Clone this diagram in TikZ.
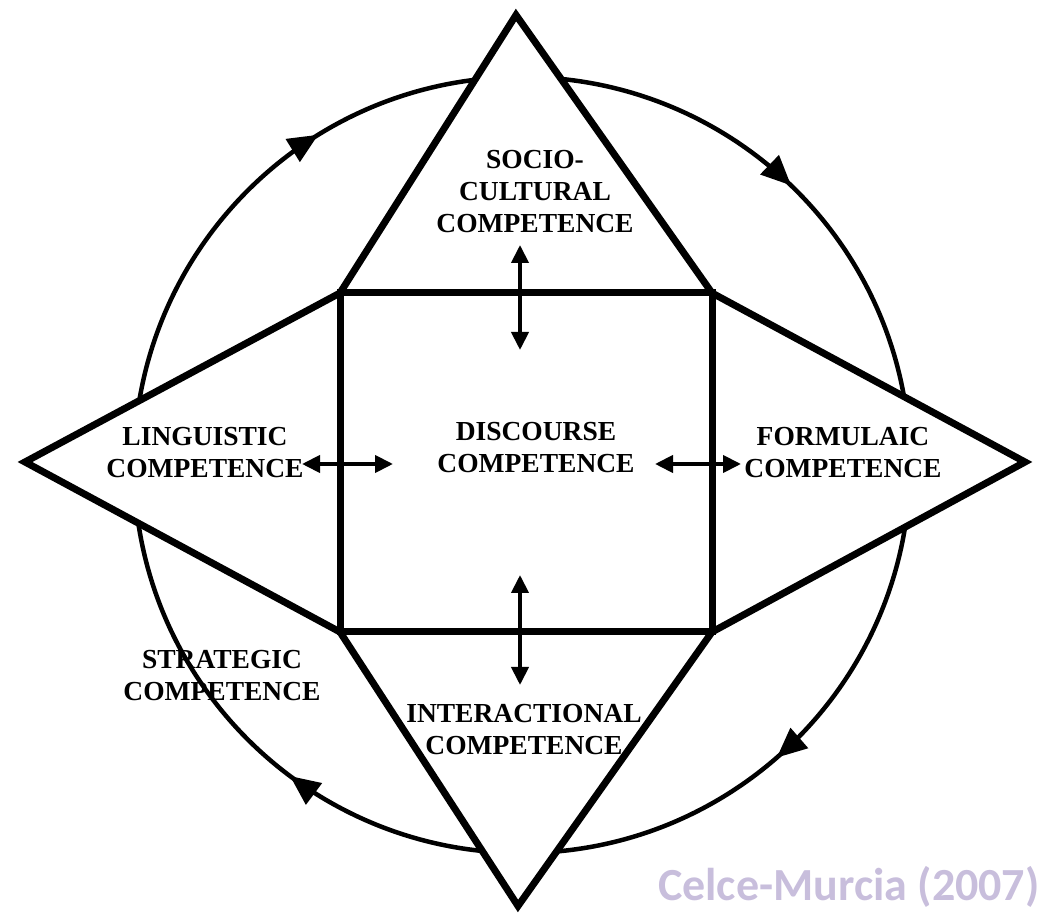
\documentclass[tikz,border=0pt]{standalone}
\usepackage{fontspec}
\setmainfont{Liberation Serif}
\newfontfamily\citefont{Carlito}
\usepackage{tikz}
\usetikzlibrary{arrows.meta,decorations.markings}
\definecolor{citelila}{HTML}{C8BEDC}

\begin{document}
\begin{tikzpicture}[
x=1pt,y=1pt,
outline/.style={line width=7pt,line join=miter},
circ/.style={line width=4.5pt,
  postaction={decorate,decoration={markings,
    mark=at position 0.136 with {\arrow{Triangle[length=30pt,width=26pt]}},
    mark=at position 0.352 with {\arrow{Triangle[length=30pt,width=26pt]}},
    mark=at position 0.662 with {\arrow{Triangle[length=30pt,width=26pt]}},
    mark=at position 0.872 with {\arrow{Triangle[length=30pt,width=26pt]}}}}},
both/.style={{Triangle[length=18pt,width=17pt]}-{Triangle[length=18pt,width=17pt]},line width=4pt},
lbl/.style={font=\bfseries\fontsize{27.5}{32}\selectfont,align=center,inner sep=0pt}
]
\useasboundingbox (0,0) rectangle (1043,912);
\coordinate (C) at (522,447);
\draw[circ] (C) ++(388,0) arc[start angle=0,end angle=-360,radius=388];
\coordinate (top) at (516,897);
\coordinate (rgt) at (1025,450);
\coordinate (bot) at (518,6);
\coordinate (lft) at (25,450);
\coordinate (tl) at (340,619);
\coordinate (tr) at (712,619);
\coordinate (br) at (712,280);
\coordinate (bl) at (340,280);
\filldraw[outline,fill=white] (top) -- (tr) -- (rgt) -- (br) -- (bot) -- (bl) -- (lft) -- (tl) -- cycle;
\draw[outline] (tl) -- (tr) -- (br) -- (bl) -- cycle;
\node[lbl] (socio) at (535,720) {SOCIO-\\CULTURAL\\COMPETENCE};
\node[lbl] (disc) at (536,464) {DISCOURSE\\COMPETENCE};
\node[lbl] (ling) at (205,459) {LINGUISTIC\\COMPETENCE};
\node[lbl] (form) at (843,459) {FORMULAIC\\COMPETENCE};
\node[lbl] (strat) at (222,236) {STRATEGIC\\COMPETENCE};
\node[lbl] (inter) at (524,182) {INTERACTIONAL\\COMPETENCE};
\coordinate (a1) at (520,667);
\coordinate (a2) at (520,562);
\coordinate (b1) at (520,337);
\coordinate (b2) at (520,227);
\coordinate (c1) at (302,448);
\coordinate (c2) at (393,448);
\coordinate (d1) at (655,448);
\coordinate (d2) at (741,448);
\draw[both] (a1) -- (a2);
\draw[both] (b1) -- (b2);
\draw[both] (c1) -- (c2);
\draw[both] (d1) -- (d2);
\node[anchor=base west,inner sep=0pt,text=citelila,font=\citefont\bfseries\fontsize{46}{54}\selectfont] (cite) at (658,12) {Celce-Murcia (2007)};
\end{tikzpicture}
\end{document}
